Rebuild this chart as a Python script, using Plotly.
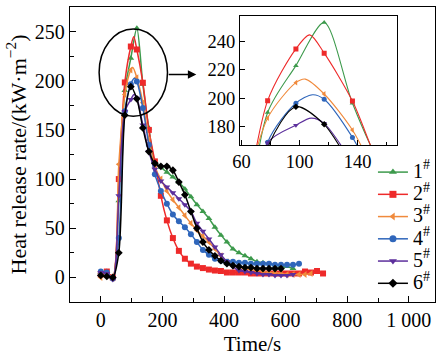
import plotly.graph_objects as go

# ---------------- data ----------------
series_labels = ["1", "2", "3", "4", "5", "6"]

time_s = [0, 19.5, 39, 58.5, 78, 97.5, 117, 136.5, 156, 175.5, 195, 214.5, 234, 253.5,
          273, 292.5, 312, 331.5, 351, 370.5, 390, 409.5, 429, 448.5, 468, 487.5, 507,
          526.5, 546, 565.5, 585, 604.5, 624, 643.5, 663, 682.5, 702, 721.5]

hrr_1 = [5, 6, 0, 78, 190, 223, 253.4, 196.5, 152, 118, 112, 107, 102, 97, 90, 82, 74,
         67, 60, 51, 43, 36, 29, 25, 22, 19, 16, 15, 14, 13, 12, 11, 9]
hrr_2 = [3, 6, 0, 100, 198.3, 234.8, 231.8, 198, 150, 118, 83, 58, 40, 27, 19, 14, 11,
         9.5, 8, 7, 6.5, 5, 5, 5, 5, 4, 4, 4, 4, 4, 4, 4, 4, 4, 6, 5, 6.5, 4]
hrr_3 = [0, 3, -1, 115, 186, 211, 203, 177.6, 140, 112, 100, 88, 79, 71, 63, 55, 48, 42,
         36, 29, 22, 16, 12, 10, 9, 8, 7, 6, 5, 5, 4, 3, 3, 3, 3, 4]
hrr_4 = [6, 5, -1, 40, 169, 196.5, 199.3, 172.4, 135, 105, 88, 75, 64, 57, 51, 44, 36,
         28, 23, 19, 17, 16, 16, 15, 15, 14, 14, 14, 14, 13, 13, 13, 13, 14]
hrr_5 = [5, 4, -2, 83, 168.7, 181, 182.3, 155, 128, 110, 98, 92, 86, 80, 74, 67, 55, 47,
         39, 31, 23, 16, 11, 7, 6, 5, 4, 3, 3, 2, 2, 2, 3]
hrr_6 = [2, 1, 0, 25, 165, 194, 181.6, 152, 128, 116, 113, 113, 109, 97, 84, 67, 50, 36,
         28, 22, 17, 14, 12, 11, 10, 10, 9, 9, 9, 9, 9]
hrr_values = [hrr_1, hrr_2, hrr_3, hrr_4, hrr_5, hrr_6]

# peak points of the smooth curves (between markers)
peak_series = [1, 2, 3, 4]          # index into series list (2#, 3#, 4#, 5#)
peak_time = [107, 104, 109, 108]
peak_value = [244.7, 213.5, 202.5, 186]

x_tick_vals = [0, 200, 400, 600, 800, 1000]
x_tick_text = ["0", "200", "400", "600", "800", "1 000"]

# ---------------- style ----------------
colors = ["#3d9a4c", "#ee2a2a", "#f08a3c", "#2f66bb", "#5c2f9c", "#000000"]
symbols = ["triangle-up", "square", "triangle-left", "circle", "triangle-down", "diamond"]
FONT = "Liberation Serif"

fig = go.Figure()

for i, vals in enumerate(hrr_values):
    t = time_s[:len(vals)]
    pts = list(zip(t, vals))
    for s, pt, pv in zip(peak_series, peak_time, peak_value):
        if s == i:
            pts.append((pt, pv))
    pts.sort()
    lx = [p[0] for p in pts]
    ly = [p[1] for p in pts]
    for (xa, ya, lw, ms) in [("x", "y", 1.5, 6), ("x2", "y2", 1.1, 5)]:
        fig.add_trace(go.Scatter(x=lx, y=ly, mode="lines", line=dict(color=colors[i], width=lw, shape="spline", smoothing=0.8),
                                 xaxis=xa, yaxis=ya, showlegend=False, hoverinfo="skip"))
        fig.add_trace(go.Scatter(x=t, y=vals, mode="markers",
                                 marker=dict(color=colors[i], symbol=symbols[i], size=ms, line=dict(width=0)),
                                 xaxis=xa, yaxis=ya, showlegend=False, hoverinfo="skip"))
    fig.add_trace(go.Scatter(x=[None], y=[None], mode="lines+markers",
                             name="<span style='font-size:20px'>" + series_labels[i] + "<sup>#</sup></span>",
                             line=dict(color=colors[i], width=1.5),
                             marker=dict(color=colors[i], symbol=symbols[i], size=7, line=dict(width=0))))

axis_common = dict(showline=True, linecolor="black", linewidth=1.3, mirror=True, ticks="inside",
                   tickcolor="black", tickwidth=1.2, showgrid=False, zeroline=False, automargin=False,
                   tickfont=dict(family=FONT, size=20, color="black"))
inset_font = dict(family=FONT, size=18.5, color="black")

fig.update_layout(
    width=444, height=359,
    margin=dict(l=70, r=9, t=7, b=57),
    paper_bgcolor="white", plot_bgcolor="white",
    font=dict(family=FONT, color="black"),
    xaxis=dict(**axis_common, range=[-100, 1085], tickvals=x_tick_vals, ticktext=x_tick_text, ticklen=6,
               minor=dict(ticks="inside", ticklen=3.5, dtick=100, tick0=100, tickcolor="black"),
               title=dict(text="Time/s", font=dict(family=FONT, size=21), standoff=6)),
    yaxis=dict(**axis_common, range=[-25, 275], tick0=0, dtick=50, ticklen=6,
               minor=dict(ticks="inside", ticklen=3.5, dtick=25, tick0=25, tickcolor="black"),
               title=dict(text="Heat release rate/(kW·m<sup>−2</sup>)", font=dict(family=FONT, size=22), standoff=2)),
    xaxis2=dict(**{**axis_common, "tickfont": inset_font},
                domain=[0.466, 0.895], anchor="y2", range=[59, 167], tick0=60, dtick=40, ticklen=5,
                minor=dict(ticks="inside", ticklen=3, dtick=20, tick0=60, tickcolor="black")),
    yaxis2=dict(**{**axis_common, "tickfont": inset_font},
                domain=[0.532, 0.9695], anchor="x2", range=[167, 258], tick0=180, dtick=20, ticklen=5),
    legend=dict(x=0.83, y=0.495, xanchor="left", yanchor="top", bgcolor="rgba(0,0,0,0)",
                font=dict(family=FONT, size=14.8), tracegroupgap=0, itemwidth=30),
    showlegend=True,
)

# circle marking the peak region and the arrow pointing at the inset
fig.add_shape(type="circle", xref="x", yref="y", x0=-5.5, x1=216.5, y0=163.9, y1=252.7,
              line=dict(color="black", width=1.5), layer="above")
fig.add_annotation(x=310, y=206.3, ax=215.5, ay=206.3, xref="x", yref="y", axref="x", ayref="y",
                   showarrow=True, arrowhead=2, arrowsize=1.2, arrowwidth=1.4, arrowcolor="black", text="")

fig.write_html("out.html", config={"displayModeBar": False},
               post_script="document.body.style.margin='0px';")
